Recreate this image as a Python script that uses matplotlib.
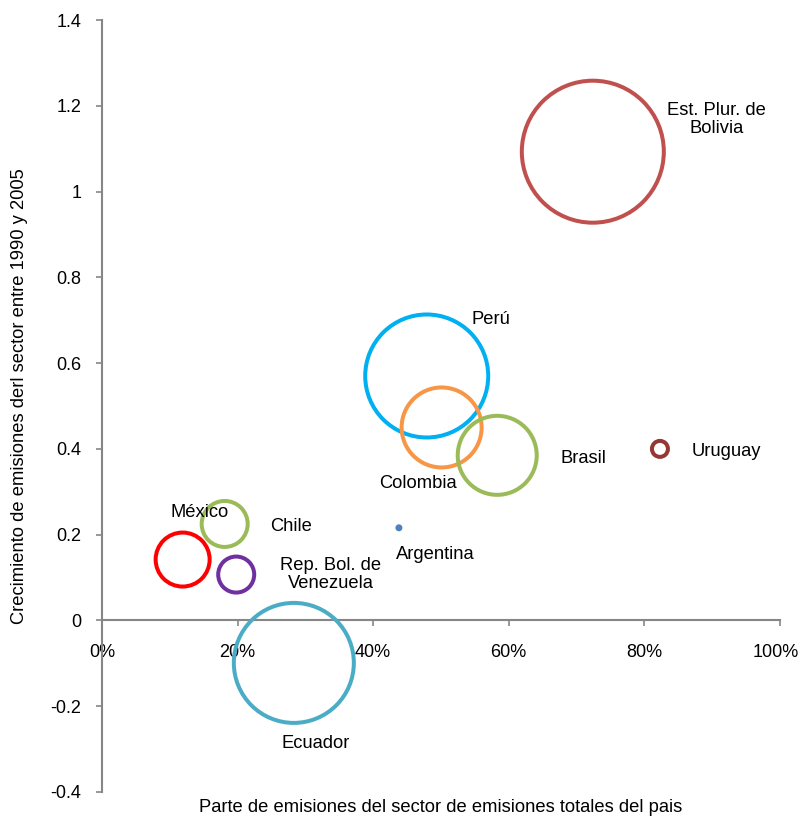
import matplotlib.pyplot as plt
import matplotlib.ticker as mticker
import matplotlib.transforms as mtransforms

plt.rcParams['font.family'] = ['Liberation Sans', 'DejaVu Sans']

# Data
paises = ['Est. Plur. de\nBolivia', 'Perú', 'Colombia', 'Brasil', 'Uruguay',
          'Argentina', 'Chile', 'México', 'Rep. Bol. de\nVenezuela', 'Ecuador']
parte = [0.724, 0.479, 0.501, 0.583, 0.823, 0.438, 0.181, 0.119, 0.198, 0.283]
crecimiento = [1.093, 0.570, 0.450, 0.385, 0.400, 0.216, 0.225, 0.142, 0.107, -0.099]
tamano = [146, 127, 84, 83, 20, 7, 50, 58, 40, 124]   # bubble diameter (relative)
colores = ['#C0504D', '#00B0F0', '#F79646', '#9BBB59', '#953735',
           '#4F81BD', '#9BBB59', '#FF0000', '#7030A0', '#4BACC6']

# label offsets from bubble centre (points)
offsets = [(89, 23), (46, 41), (-17, -40), (62, -2), (48, -2),
           (26, -19), (48, -2), (12, 34), (68, 0), (16, -58)]

fig = plt.figure(figsize=(8.01, 8.17), dpi=100)
ax = fig.add_axes([0.1273, 0.0306, 0.8464, 0.9449])

lw_px = 4
for x, y, d, c in zip(parte, crecimiento, tamano, colores):
    if d < 10:
        ax.scatter(x, y, s=(d * 0.72) ** 2, color=c, edgecolors='none', zorder=3)
    else:
        ax.scatter(x, y, s=((d - lw_px) * 0.72) ** 2, facecolors='none',
                   edgecolors=c, linewidths=lw_px * 0.72, zorder=3)

for x, y, name, off in zip(parte, crecimiento, paises, offsets):
    ax.annotate(name, (x, y), xytext=off, textcoords='offset points',
                ha='center', va='center', fontsize=13.2, color='black',
                linespacing=1.1)

ax.set_xlim(0, 1)
ax.set_ylim(-0.4, 1.4)
ax.set_yticks([-0.4, -0.2, 0, 0.2, 0.4, 0.6, 0.8, 1.0, 1.2, 1.4])
ax.yaxis.set_major_formatter(mticker.FuncFormatter(lambda v, p: f'{v:g}'))
ax.set_xticks([0, 0.2, 0.4, 0.6, 0.8, 1.0])
ax.xaxis.set_major_formatter(mticker.PercentFormatter(1.0, decimals=0))

ax.spines['top'].set_visible(False)
ax.spines['right'].set_visible(False)
ax.spines['bottom'].set_position(('data', 0))
for s in ['left', 'bottom']:
    ax.spines[s].set_color('#868686')
    ax.spines[s].set_linewidth(1.5)

ax.tick_params(axis='y', direction='out', length=4, width=1.2, color='#868686',
               labelsize=13, pad=11)
ax.tick_params(axis='x', direction='out', length=4, width=1.2, color='#868686',
               labelsize=13, pad=13)

# nudge the last x label so it stays inside the figure
last = ax.get_xticklabels()[-1]
last.set_transform(last.get_transform() +
                   mtransforms.ScaledTranslation(-3 / 72, 0, fig.dpi_scale_trans))

# axis titles
fig.text(20 / 801, 1 - 396 / 817, 'Crecimiento de emisiones derl sector entre 1990 y 2005',
         rotation=90, ha='center', va='center', fontsize=13.2)
fig.text(441 / 801, 1 - 807 / 817, 'Parte de emisiones del sector de emisiones totales del pais',
         ha='center', va='center', fontsize=13.2)

plt.savefig('out.png', dpi=100)
